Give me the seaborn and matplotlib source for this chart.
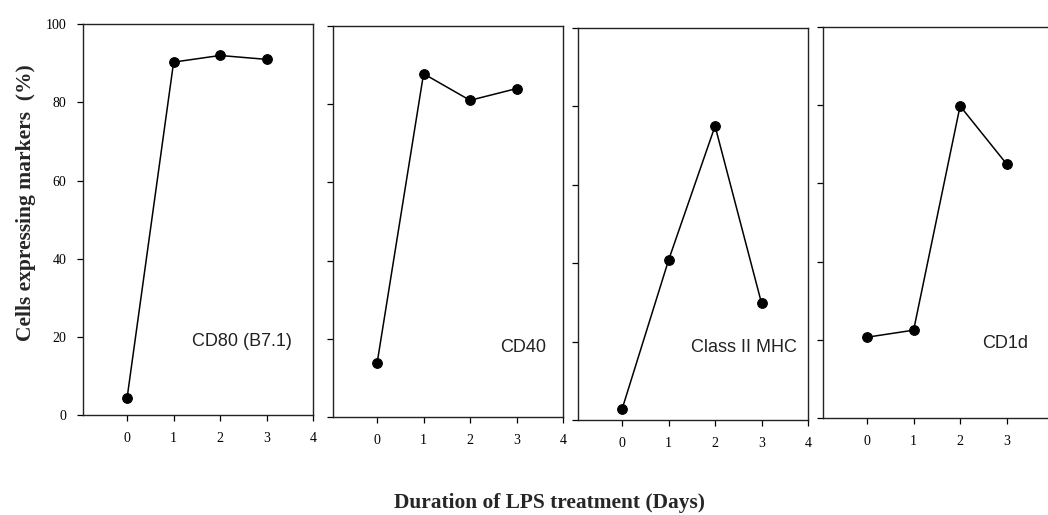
import numpy as np
import pandas as pd
import matplotlib
matplotlib.use("Agg")
import matplotlib.pyplot as plt
import seaborn as sns

days = [0, 1, 2, 3]
markers = ["CD80 (B7.1)", "CD40", "Class II MHC", "CD1d"]
cd80 = [4.5, 90.3, 92.0, 91.0]
cd40 = [13.8, 87.8, 81.0, 84.0]
mhc2 = [2.8, 40.8, 75.0, 29.8]
cd1d = [20.7, 22.5, 79.8, 65.0]
series = [cd80, cd40, mhc2, cd1d]
yticks = [0, 20, 40, 60, 80, 100]
xticks = [0, 1, 2, 3, 4]

sns.set_style("ticks")
plt.rcParams['font.family'] = ['Liberation Serif', 'DejaVu Serif']

fig = plt.figure(figsize=(10.48, 5.15), dpi=100)

# axes rectangles [left, bottom, width, height] in figure fraction
rects = [
    [0.0792, 0.194, 0.2195, 0.759],
    [0.3177, 0.190, 0.2195, 0.7595],
    [0.5515, 0.1845, 0.2195, 0.761],
    [0.7853, 0.188, 0.2195, 0.7596],
]
label_pos = [(3.55, 18.7), (3.64, 17.9), (3.77, 18.4), (3.47, 19.2)]

for i, (rect, vals, name) in enumerate(zip(rects, series, markers)):
    ax = fig.add_axes(rect)
    df = pd.DataFrame({"day": days, "pct": vals})
    sns.lineplot(data=df, x="day", y="pct", ax=ax, color="black", lw=1.1,
                 marker="o", markersize=7, markeredgecolor="black",
                 markerfacecolor="black")
    ax.set_xlim(-0.95, 4)
    ax.set_ylim(0, 100)
    ax.set_xticks(xticks)
    xl = [str(t) for t in xticks]
    if i == 3:
        xl[-1] = ""
    ax.set_xticklabels(xl, fontsize=10)
    ax.set_yticks(yticks)
    if i == 0:
        ax.set_yticklabels([str(t) for t in yticks], fontsize=10)
    else:
        ax.set_yticklabels([])
    ax.tick_params(direction="out", length=4, width=0.9, colors="black", pad=8)
    for s in ax.spines.values():
        s.set_visible(True)
        s.set_color("#222222")
        s.set_linewidth(1.0)
    ax.set_xlabel("")
    ax.set_ylabel("")
    ax.text(label_pos[i][0], label_pos[i][1], name, ha="right", va="center",
            fontsize=13, family="Liberation Sans", color="#222222")

fig.text(0.025, 0.607, "Cells expressing markers  (%)", rotation=90,
         ha="center", va="center", fontsize=15.5, fontweight="bold")
fig.text(0.524, 0.024, "Duration of LPS treatment (Days)", ha="center",
         va="center", fontsize=15.4, fontweight="bold")

fig.savefig("out.png", dpi=100)
